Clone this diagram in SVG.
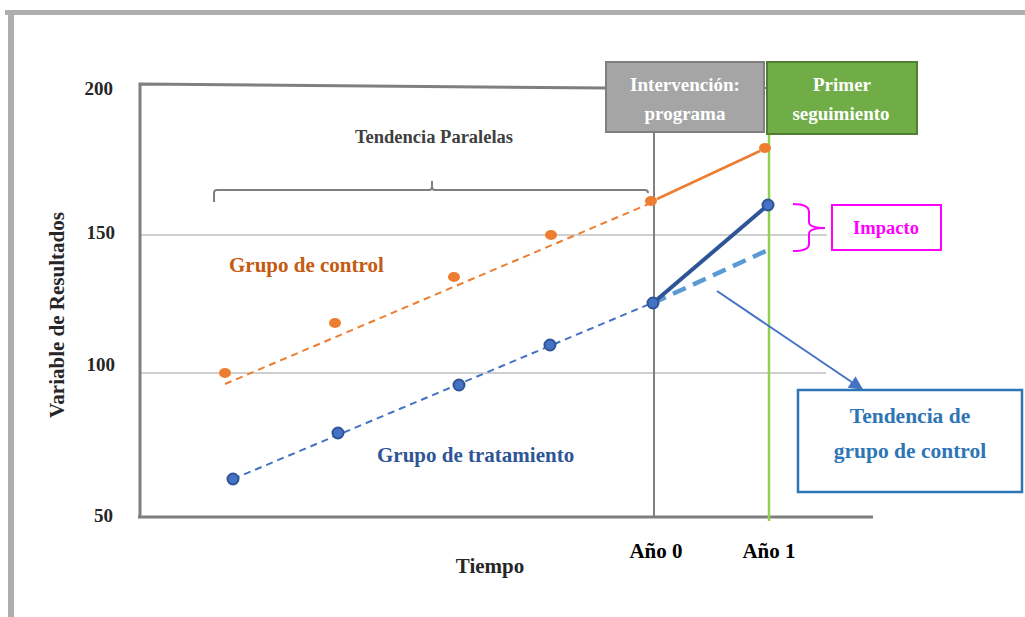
<svg xmlns="http://www.w3.org/2000/svg" width="1025" height="617" viewBox="0 0 1025 617">
<style>
text{font-family:"Liberation Serif","Times New Roman",serif;font-weight:bold}
.ax{stroke:#7f7f7f;stroke-width:3;fill:none}
.grid{stroke:#bfbfbf;stroke-width:1.5;fill:none}
.tick{font-size:19px;fill:#262626;text-anchor:end}
.odot{fill:#ed7d31}
.bdot{fill:#4472c4;stroke:#2f5597;stroke-width:2}
.wt{fill:#ffffff;font-size:19px;text-anchor:middle}
</style>
<defs>
<marker id="ah" viewBox="0 0 10 10" refX="9" refY="5" markerWidth="7" markerHeight="7" orient="auto" markerUnits="strokeWidth">
<path d="M0,0 L10,5 L0,10 z" fill="#4472c4"/>
</marker>
<clipPath id="cg"><rect x="607" y="63" width="156" height="61"/></clipPath>
<clipPath id="cgr"><rect x="767" y="63" width="149" height="61"/></clipPath>
</defs>

<g id="frame">
<rect x="5" y="10" width="1020" height="5" fill="#b0adad"/>
<rect x="8" y="12" width="6" height="605" fill="#b0adad"/>
</g>

<g id="axes">
<line class="grid" x1="140" y1="235" x2="827" y2="235"/>
<line class="grid" x1="140" y1="373" x2="826" y2="373"/>
<polyline class="ax" points="140,517 140,84 606,88"/>
<line class="ax" x1="138" y1="517" x2="873" y2="517"/>
<line x1="764" y1="88" x2="767" y2="88" stroke="#7f7f7f" stroke-width="2"/>
<text class="tick" x="113" y="95">200</text>
<text class="tick" x="115" y="239">150</text>
<text class="tick" x="115" y="371">100</text>
<text class="tick" x="113" y="522">50</text>
<text x="0" y="0" font-size="21" fill="#262626" text-anchor="middle" transform="translate(64,315) rotate(-90)">Variable de Resultados</text>
<text x="490" y="573" font-size="21" fill="#262626" text-anchor="middle">Tiempo</text>
<text x="656" y="558" font-size="21" fill="#000" text-anchor="middle">Año 0</text>
<text x="769" y="558" font-size="21" fill="#000" text-anchor="middle">Año 1</text>
</g>

<g id="connectors">
<line x1="654" y1="133" x2="654" y2="517" stroke="#7f7f7f" stroke-width="2"/>
<line x1="769" y1="135" x2="769" y2="521" stroke="#92d050" stroke-width="2.5"/>
<path d="M214,202 L214,193 Q214,190 217,190 L429,190 Q432,190 432,187 L432,181 M432,187 Q432,190 435,190 L645,190 Q648,190 648,193" stroke="#7f7f7f" stroke-width="2" fill="none"/>
<line x1="225" y1="384" x2="651" y2="203" stroke="#ed7d31" stroke-width="2" stroke-dasharray="7,5"/>
<line x1="657" y1="199" x2="760" y2="151" stroke="#ed7d31" stroke-width="2.5"/>
<line x1="233" y1="479" x2="652" y2="303" stroke="#4472c4" stroke-width="2" stroke-dasharray="7,5"/>
<line x1="653" y1="303" x2="768" y2="250" stroke="#5b9bd5" stroke-width="4.5" stroke-dasharray="14,8"/>
<line x1="653" y1="303" x2="768" y2="205" stroke="#2f5597" stroke-width="4"/>
<line x1="717" y1="291" x2="862" y2="389" stroke="#4472c4" stroke-width="2" marker-end="url(#ah)"/>
<path d="M793,204 Q809,204 809,212 L809,222 Q809,228 825,228 Q809,228 809,234 L809,244 Q809,251 793,251" stroke="#ff00ff" stroke-width="2" fill="none"/>
</g>

<g id="control-points">
<ellipse class="odot" cx="225" cy="373" rx="6" ry="5"/>
<ellipse class="odot" cx="335" cy="323" rx="6" ry="5"/>
<ellipse class="odot" cx="454" cy="277" rx="6" ry="5"/>
<ellipse class="odot" cx="551" cy="235" rx="6" ry="5"/>
<ellipse class="odot" cx="651" cy="201" rx="6" ry="5"/>
<ellipse class="odot" cx="765" cy="148" rx="6" ry="5"/>
</g>

<g id="treatment-points">
<circle class="bdot" cx="233" cy="479" r="5.5"/>
<circle class="bdot" cx="338" cy="433" r="5.5"/>
<circle class="bdot" cx="459" cy="385" r="5.5"/>
<circle class="bdot" cx="550" cy="345" r="5.5"/>
<circle class="bdot" cx="653" cy="303" r="5.5"/>
<circle class="bdot" cx="768" cy="205" r="5.5"/>
</g>

<g id="labels">
<text x="434" y="143" font-size="18.5" fill="#404040" text-anchor="middle">Tendencia Paralelas</text>
<text x="229" y="272" font-size="21" fill="#c55a11">Grupo de control</text>
<text x="377" y="462" font-size="21" fill="#2f5597">Grupo de tratamiento</text>
</g>

<g id="intervencion">
<rect x="606" y="62" width="158" height="70" fill="#a5a5a5" stroke="#7f7f7f" stroke-width="2"/>
<g clip-path="url(#cg)">
<text class="wt" x="685" y="91">Intervención:</text>
<text class="wt" x="685" y="120">programa</text>
</g>
</g>

<g id="seguimiento">
<rect x="767" y="62" width="150" height="72" fill="#70ad47" stroke="#507e32" stroke-width="2"/>
<g clip-path="url(#cgr)">
<text class="wt" x="842" y="91">Primer</text>
<text class="wt" x="841" y="120">seguimiento</text>
</g>
</g>

<g id="impacto">
<rect x="832" y="205" width="109" height="45" fill="#fff" stroke="#ff00ff" stroke-width="2"/>
<text x="886" y="234" font-size="18.5" fill="#ff00ff" text-anchor="middle">Impacto</text>
</g>

<g id="tendencia-control">
<rect x="798" y="390" width="224" height="102" fill="#fff" stroke="#2e75b6" stroke-width="2.5"/>
<text x="910" y="423" font-size="21.5" fill="#2e75b6" text-anchor="middle">Tendencia de</text>
<text x="910" y="458" font-size="21.5" fill="#2e75b6" text-anchor="middle">grupo de control</text>
</g>
</svg>
